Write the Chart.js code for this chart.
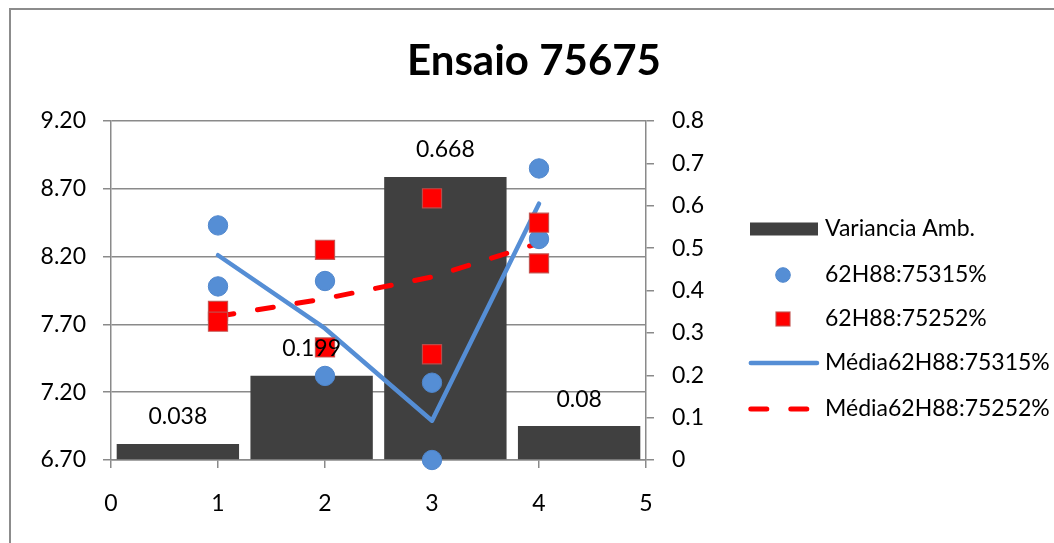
<!DOCTYPE html>
<html>
<head>
<meta charset="utf-8">
<script src="https://cdn.jsdelivr.net/npm/chart.js@4.4.1/dist/chart.umd.min.js"></script>
<style>
  html, body { margin: 0; padding: 0; background: #fff; overflow: hidden; }
  #wrap { position: relative; width: 1054px; height: 543px; }
  #frame { position: absolute; left: 9px; top: 8px; width: 1100px; height: 600px; border: 2px solid #8c8c8c; pointer-events: none; }
</style>
</head>
<body>
<div id="wrap">
  <div id="frame"></div>
  <canvas id="chart"></canvas>
</div>
<script>
// ---- data ----
const chartTitle = "Ensaio 75675";
const seriesNames = ["Variancia Amb.", "62H88:75315%", "62H88:75252%", "Média62H88:75315%", "Média62H88:75252%"];
const categories = [1, 2, 3, 4];
const xTicks = [0, 1, 2, 3, 4, 5];
const leftTicks = [6.70, 7.20, 7.70, 8.20, 8.70, 9.20];
const rightTicks = [0, 0.1, 0.2, 0.3, 0.4, 0.5, 0.6, 0.7, 0.8];

const varianciaAmb = [0.038, 0.199, 0.668, 0.08];

// two readings per category for each scatter series
const pts75315High = [8.43, 8.02, 7.27, 8.85];
const pts75315Low = [7.98, 7.32, 6.70, 8.33];
const pts75252High = [7.80, 8.25, 8.63, 8.45];
const pts75252Low = [7.72, 7.53, 7.48, 8.15];

const media75315 = [8.21, 7.67, 6.99, 8.59];
const media75252 = [7.76, 7.89, 8.05, 8.30];

const BLUE = "#558ed5";
const RED = "#ff0000";
const BAR = "#404040";
const GRID = "#8a8a8a";

Chart.defaults.font.family = "Lato";
Chart.defaults.font.size = 23;
Chart.defaults.color = "#000";

function pairs(xs, a, b) {
    return xs.flatMap((x, i) => [{ x: x, y: a[i] }, { x: x, y: b[i] }]);
}

/* ---------- value labels above the bars ---------- */
const barLabels = {
    id: "barLabels",
    afterDatasetsDraw(chart) {
        const meta = chart.getDatasetMeta(0);
        const ctx = chart.ctx;
        ctx.save();
        ctx.font = "23px Lato";
        ctx.fillStyle = "#000";
        ctx.textAlign = "center";
        ctx.textBaseline = "middle";
        meta.data.forEach((bar, i) => {
            ctx.fillText(String(varianciaAmb[i]), bar.x, bar.y - 27);
        });
        ctx.restore();
    }
};

/* ---------- title + legend on the right ---------- */
const sideStuff = {
    id: "sideStuff",
    afterDraw(chart) {
        const ctx = chart.ctx;
        ctx.save();
        ctx.fillStyle = "#000";
        ctx.font = "bold 42px Lato";
        ctx.textAlign = "center";
        ctx.textBaseline = "alphabetic";
        ctx.fillText(chartTitle, 534, 75);

        const rows = [229, 275, 319, 363, 409];
        const ds = chart.data.datasets;
        ctx.textAlign = "left";
        ctx.textBaseline = "middle";
        ctx.font = "23px Lato";
        ds.forEach((d, i) => {
            const y = rows[i];
            ctx.save();
            if (i === 0) {
                ctx.fillStyle = d.backgroundColor;
                ctx.fillRect(750, y - 6.5, 68, 13);
            } else if (i === 1) {
                ctx.beginPath();
                ctx.arc(783, y, 7.3, 0, Math.PI * 2);
                ctx.fillStyle = d.backgroundColor;
                ctx.fill();
                ctx.lineWidth = 1;
                ctx.strokeStyle = d.borderColor;
                ctx.stroke();
            } else if (i === 2) {
                ctx.fillStyle = d.backgroundColor;
                ctx.fillRect(776, y - 7, 14, 14);
                ctx.lineWidth = 1.2;
                ctx.strokeStyle = d.borderColor;
                ctx.strokeRect(776, y - 7, 14, 14);
            } else {
                ctx.strokeStyle = d.borderColor;
                ctx.lineWidth = d.borderWidth;
                ctx.lineCap = "round";
                ctx.setLineDash(d.borderDash || []);
                ctx.beginPath();
                ctx.moveTo(750.8, y);
                ctx.lineTo(i === 4 ? 812 : 817, y);
                ctx.stroke();
            }
            ctx.restore();
            ctx.fillText(d.label, 825, y);
        });
        ctx.restore();
    }
};

const ctx = document.getElementById("chart");

new Chart(ctx, {
    type: "bar",
    data: {
        datasets: [
            {
                type: "bar",
                label: seriesNames[0],
                data: varianciaAmb,
                xAxisID: "x2",
                yAxisID: "y2",
                backgroundColor: BAR,
                grouped: false,
                categoryPercentage: 1,
                barPercentage: 0.915,
                order: 6
            },
            {
                type: "scatter",
                label: seriesNames[1],
                data: pairs(categories, pts75315High, pts75315Low),
                xAxisID: "x",
                yAxisID: "y",
                clip: false,
                pointStyle: "circle",
                pointRadius: 9.7,
                backgroundColor: BLUE,
                borderColor: "#4f86cc",
                borderWidth: 1,
                order: 2
            },
            {
                type: "scatter",
                label: seriesNames[2],
                data: pairs(categories, pts75252High, pts75252Low),
                xAxisID: "x",
                yAxisID: "y",
                clip: false,
                pointStyle: "rect",
                pointRadius: 13.5,
                backgroundColor: RED,
                borderColor: "rgba(192,80,77,0.9)",
                borderWidth: 1.2,
                order: 1
            },
            {
                type: "line",
                label: seriesNames[3],
                data: categories.map((c, i) => ({ x: c, y: media75315[i] })),
                xAxisID: "x",
                yAxisID: "y",
                clip: false,
                borderColor: BLUE,
                backgroundColor: BLUE,
                borderWidth: 4.5,
                borderCapStyle: "round",
                borderJoinStyle: "round",
                pointRadius: 0,
                tension: 0,
                fill: false,
                order: 5
            },
            {
                type: "line",
                label: seriesNames[4],
                data: categories.map((c, i) => ({ x: c, y: media75252[i] })),
                xAxisID: "x",
                yAxisID: "y",
                clip: false,
                borderColor: RED,
                backgroundColor: RED,
                borderWidth: 5,
                borderDash: [16, 24],
                borderCapStyle: "round",
                pointRadius: 0,
                tension: 0,
                fill: false,
                order: 4
            }
        ]
    },
    options: {
        responsive: true,
        maintainAspectRatio: false,
        animation: false,
        events: [],
        layout: { padding: { left: 0, right: 348, top: 121, bottom: 23 } },
        plugins: {
            legend: { display: false },
            title: { display: false },
            tooltip: { enabled: false }
        },
        scales: {
            x: {
                type: "linear",
                position: "bottom",
                offset: false,
                min: 0,
                max: 5,
                afterBuildTicks: axis => { axis.ticks = xTicks.map(v => ({ value: v })); },
                afterFit: axis => { axis.height = 60; },
                ticks: { padding: 22, maxRotation: 0 },
                grid: { offset: false, drawOnChartArea: false, drawTicks: true, tickLength: 8, color: GRID, lineWidth: 1.5 },
                border: { display: true, color: GRID, width: 1.5 }
            },
            x2: {
                type: "category",
                position: "top",
                labels: categories.map(String),
                offset: true,
                display: false
            },
            y: {
                type: "linear",
                position: "left",
                min: 6.7,
                max: 9.2,
                afterBuildTicks: axis => { axis.ticks = leftTicks.map(v => ({ value: v })); },
                afterFit: axis => { axis.width = 111; },
                ticks: { padding: 17, callback: v => Number(v).toFixed(2) },
                grid: { drawTicks: true, tickLength: 8, color: GRID, lineWidth: 1.5 },
                border: { display: true, color: GRID, width: 1.5 }
            },
            y2: {
                type: "linear",
                position: "right",
                min: 0,
                max: 0.8,
                afterBuildTicks: axis => { axis.ticks = rightTicks.map(v => ({ value: v })); },
                afterFit: axis => { axis.width = 60; },
                ticks: { padding: 18, callback: v => String(+Number(v).toFixed(1)) },
                grid: { drawOnChartArea: false, drawTicks: true, tickLength: 8, color: GRID, lineWidth: 1.5 },
                border: { display: true, color: GRID, width: 1.5 }
            }
        }
    },
    plugins: [barLabels, sideStuff]
});
</script>
</body>
</html>
